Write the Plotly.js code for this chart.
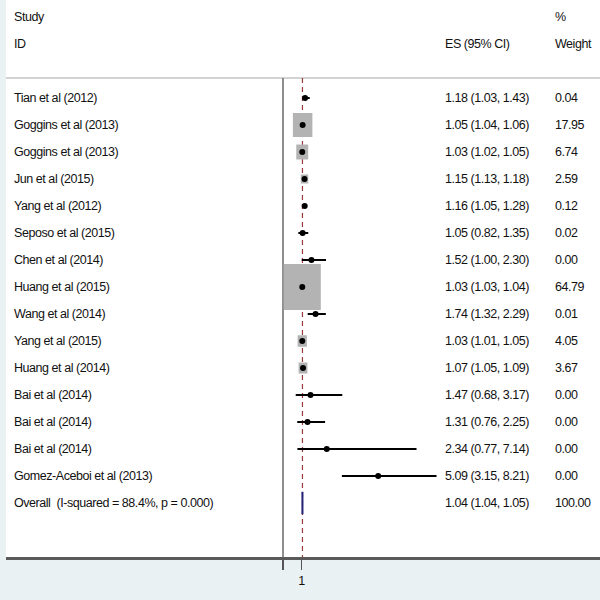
<!DOCTYPE html>
<html>
<head>
<meta charset="utf-8">
<script src="https://cdn.plot.ly/plotly-3.0.1.min.js"></script>
<style>
html,body{margin:0;padding:0;background:#e9f1f2;}
#chart .annotation-text{letter-spacing:-0.45px;}
</style>
</head>
<body>
<div id="chart" style="width:600px;height:600px;"></div>
<script>
// ---- data ----
const studies = ['Tian et al (2012)', 'Goggins et al (2013)', 'Goggins et al (2013)', 'Jun et al (2015)',
  'Yang et al (2012)', 'Seposo et al (2015)', 'Chen et al (2014)', 'Huang et al (2015)', 'Wang et al (2014)',
  'Yang et al (2015)', 'Huang et al (2014)', 'Bai et al (2014)', 'Bai et al (2014)', 'Bai et al (2014)',
  'Gomez-Aceboi et al (2013)'];
const es = [1.18, 1.05, 1.03, 1.15, 1.16, 1.05, 1.52, 1.03, 1.74, 1.03, 1.07, 1.47, 1.31, 2.34, 5.09];
const ciLow = [1.03, 1.04, 1.02, 1.13, 1.05, 0.82, 1.00, 1.03, 1.32, 1.01, 1.05, 0.68, 0.76, 0.77, 3.15];
const ciHigh = [1.43, 1.06, 1.05, 1.18, 1.28, 1.35, 2.30, 1.04, 2.29, 1.05, 1.09, 3.17, 2.25, 7.14, 8.21];
const weights = [0.04, 17.95, 6.74, 2.59, 0.12, 0.02, 0.00, 64.79, 0.01, 4.05, 3.67, 0.00, 0.00, 0.00, 0.00];
const overallLabel = 'Overall  (I-squared = 88.4%, p = 0.000)';
const overallES = 1.04, overallLow = 1.04, overallHigh = 1.05, overallWeight = 100.00;
const tickVals = [0, 1];
const tickText = ['', '1'];

const fam = 'Liberation Sans, Arial, sans-serif', fsize = 12.5;

// ---- build ----
const n = studies.length;
const rows = studies.map((_, i) => i);
const overallRow = n;
const boxW = 0.246, boxH = 0.211; // scale per sqrt(weight)

const traces = [];
const bx = [], by = [];
for (let i = 0; i < n; i++) {
  const s = Math.sqrt(weights[i]);
  if (s <= 0) continue;
  const hw = boxW * s / 2, hh = boxH * s / 2;
  bx.push(es[i] - hw, es[i] + hw, es[i] + hw, es[i] - hw, es[i] - hw, null);
  by.push(rows[i] - hh, rows[i] - hh, rows[i] + hh, rows[i] + hh, rows[i] - hh, null);
}
traces.push({x: bx, y: by, type: 'scatter', mode: 'lines', fill: 'toself',
  fillcolor: '#b3b3b3', line: {width: 0, color: '#b3b3b3'}, hoverinfo: 'skip', showlegend: false});
const cx = [], cy = [];
for (let i = 0; i < n; i++) {
  cx.push(ciLow[i], ciHigh[i], null);
  cy.push(rows[i], rows[i], null);
}
traces.push({x: cx, y: cy, type: 'scatter', mode: 'lines', line: {color: '#000', width: 2},
  hoverinfo: 'skip', showlegend: false});
traces.push({x: es, y: rows, type: 'scatter', mode: 'markers',
  marker: {symbol: 'circle', size: 6, color: '#000'}, showlegend: false});
const dh = 0.42;
traces.push({x: [overallLow, overallES, overallHigh, overallES, overallLow],
  y: [overallRow, overallRow - dh, overallRow, overallRow + dh, overallRow],
  type: 'scatter', mode: 'lines', fill: 'toself', fillcolor: '#24247a',
  line: {color: '#24247a', width: 2}, showlegend: false});

// ---- text ----
const font = {family: fam, size: fsize, color: '#111111'};
const plotL = 6, plotW = 594;
const px = p => (p - plotL) / plotW;
const ann = [];
function addText(text, xp, row) {
  ann.push({text: text, x: px(xp), xref: 'paper', y: row, yref: 'y', xanchor: 'left', yanchor: 'middle',
    align: 'left', showarrow: false, font: font, borderpad: 0});
}
addText('Study', 13, -3);
addText('ID', 13, -2);
addText('ES (95% CI)', 444, -2);
addText('%', 554, -3);
addText('Weight', 554, -2);
for (let i = 0; i < n; i++) {
  addText(studies[i], 13, rows[i]);
  addText(es[i].toFixed(2) + ' (' + ciLow[i].toFixed(2) + ', ' + ciHigh[i].toFixed(2) + ')', 444, rows[i]);
  addText(weights[i].toFixed(2), 554, rows[i]);
}
addText(overallLabel.replace('  ', ' \u00a0'), 13, overallRow);
addText(overallES.toFixed(2) + ' (' + overallLow.toFixed(2) + ', ' + overallHigh.toFixed(2) + ')', 444, overallRow);
addText(overallWeight.toFixed(2), 554, overallRow);

const topRow = -0.74;
const shapes = [
  {type: 'line', xref: 'paper', x0: 0, x1: 1, yref: 'y', y0: topRow, y1: topRow,
    line: {color: '#c4c4c4', width: 1.5}, layer: 'below'},
  {type: 'line', xref: 'x', x0: 0, x1: 0, yref: 'y', y0: topRow, y1: 17.0,
    line: {color: '#6a6a6a', width: 1.5}, layer: 'below'},
  {type: 'line', xref: 'x', x0: overallES, x1: overallES, yref: 'y', y0: topRow, y1: 17.0,
    line: {color: '#9b3a3a', width: 1.2, dash: '5px,4px'}, layer: 'below'}
];

const layout = {
  width: 600, height: 600, autosize: false,
  margin: {l: 6, r: 0, t: 0, b: 43},
  paper_bgcolor: '#e9f1f2', plot_bgcolor: '#ffffff',
  showlegend: false,
  xaxis: {range: [-14.813, 16.952], showgrid: false, zeroline: false, showline: true,
    linecolor: '#5a5a5a', linewidth: 2.5, ticks: 'outside', ticklen: 10, tickwidth: 1.2,
    tickcolor: '#555', tickvals: tickVals, ticktext: tickText,
    tickfont: {family: fam, size: fsize, color: '#111111'}, fixedrange: true},
  yaxis: {range: [17.0, -3.63], showgrid: false, zeroline: false, showline: false,
    showticklabels: false, ticks: '', fixedrange: true},
  annotations: ann,
  shapes: shapes
};

Plotly.newPlot('chart', traces, layout, {displayModeBar: false, staticPlot: true});
</script>
</body>
</html>
